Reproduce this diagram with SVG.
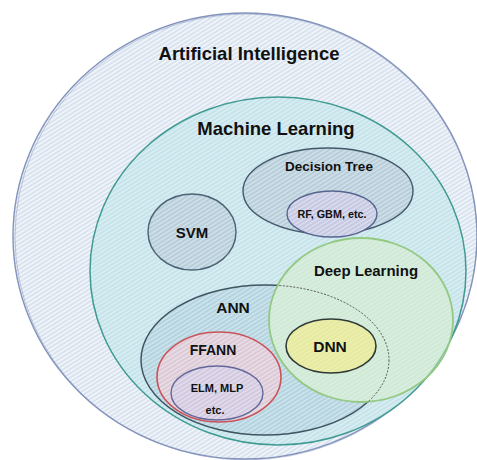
<svg xmlns="http://www.w3.org/2000/svg" width="477" height="460" viewBox="0 0 477 460">
<style>
text{font-family:"Liberation Sans",Arial,sans-serif;font-weight:bold;fill:#111;text-anchor:middle}
.hl{stroke:#fff;stroke-width:1;stroke-opacity:0.6}
</style>
<defs>
<pattern id="pAI" width="3.6" height="3.6" patternUnits="userSpaceOnUse" patternTransform="rotate(58)"><rect width="3.6" height="3.6" fill="#eff4f9"/><line x1="1" y1="0" x2="1" y2="3.6" stroke="#c3d2e6" stroke-width="0.9"/></pattern>
<pattern id="pML" width="3.6" height="3.6" patternUnits="userSpaceOnUse" patternTransform="rotate(58)"><rect width="3.6" height="3.6" fill="#c4e3ea"/><line x1="1" y1="0" x2="1" y2="3.6" class="hl"/></pattern>
<pattern id="pDT" width="3.6" height="3.6" patternUnits="userSpaceOnUse" patternTransform="rotate(58)"><rect width="3.6" height="3.6" fill="#b6cdda"/><line x1="1" y1="0" x2="1" y2="3.6" class="hl"/></pattern>
<pattern id="pRF" width="3.6" height="3.6" patternUnits="userSpaceOnUse" patternTransform="rotate(58)"><rect width="3.6" height="3.6" fill="#c5c8e2"/><line x1="1" y1="0" x2="1" y2="3.6" class="hl"/></pattern>
<pattern id="pANN" width="3.6" height="3.6" patternUnits="userSpaceOnUse" patternTransform="rotate(58)"><rect width="3.6" height="3.6" fill="#b2d3df"/><line x1="1" y1="0" x2="1" y2="3.6" class="hl"/></pattern>
<pattern id="pFF" width="3.6" height="3.6" patternUnits="userSpaceOnUse" patternTransform="rotate(58)"><rect width="3.6" height="3.6" fill="#dcc9d6"/><line x1="1" y1="0" x2="1" y2="3.6" class="hl"/></pattern>
<pattern id="pELM" width="3.6" height="3.6" patternUnits="userSpaceOnUse" patternTransform="rotate(58)"><rect width="3.6" height="3.6" fill="#d2c8e0"/><line x1="1" y1="0" x2="1" y2="3.6" class="hl"/></pattern>
<pattern id="pDNN" width="3.6" height="3.6" patternUnits="userSpaceOnUse" patternTransform="rotate(58)"><rect width="3.6" height="3.6" fill="#e6ea9c"/><line x1="1" y1="0" x2="1" y2="3.6" stroke="#fff" stroke-width="0.9" stroke-opacity="0.4"/></pattern>
<clipPath id="outDL"><path clip-rule="evenodd" d="M0 0H477V460H0Z M269 320a92 82 0 1 0 184 0a92 82 0 1 0-184 0Z"/></clipPath>
<clipPath id="inDL"><ellipse cx="361" cy="320" rx="92" ry="82"/></clipPath>
</defs>
<rect width="477" height="460" fill="#fff"/>
<g id="ai">
<ellipse cx="245" cy="236" rx="232" ry="223" fill="url(#pAI)" stroke="#8393bb" stroke-width="1.4"/>
<ellipse cx="246" cy="237" rx="231" ry="223" fill="none" stroke="#8393bb" stroke-width="0.8" stroke-opacity="0.6"/>
<text x="249" y="60" font-size="18.5">Artificial Intelligence</text>
</g>
<g id="ml">
<ellipse cx="278" cy="271" rx="188" ry="174" fill="url(#pML)" stroke="#3f9a92" stroke-width="1.5"/>
<text x="276" y="135" font-size="18.5">Machine Learning</text>
</g>
<g id="dt">
<ellipse cx="328" cy="191" rx="85" ry="43" fill="url(#pDT)" stroke="#43596a" stroke-width="1.4"/>
<text x="329" y="171" font-size="13.5">Decision Tree</text>
</g>
<g id="rf">
<ellipse cx="332" cy="214" rx="45" ry="23" fill="url(#pRF)" stroke="#56658f" stroke-width="1.4"/>
<text x="332" y="218" font-size="10.8">RF, GBM, etc.</text>
</g>
<g id="svm">
<ellipse cx="192" cy="232" rx="44" ry="38" fill="url(#pDT)" stroke="#4a6272" stroke-width="1.4"/>
<text x="192" y="238" font-size="15">SVM</text>
</g>
<g id="ann">
<ellipse cx="265" cy="360" rx="124" ry="75" fill="url(#pANN)" stroke="#3f5562" stroke-width="1.5" clip-path="url(#outDL)"/>
<text x="233" y="313" font-size="15.5">ANN</text>
</g>
<g id="dl">
<ellipse cx="361" cy="320" rx="92" ry="82" fill="#dcefc4" fill-opacity="0.45" stroke="#93c983" stroke-width="1.8"/>
<ellipse cx="265" cy="360" rx="124" ry="75" fill="none" stroke="#555" stroke-width="1" stroke-dasharray="2 1.5" clip-path="url(#inDL)"/>
<text x="366" y="276" font-size="15">Deep Learning</text>
</g>
<g id="ffann">
<ellipse cx="219" cy="377" rx="62" ry="45" fill="url(#pFF)" stroke="#c9545a" stroke-width="1.6"/>
<text x="213" y="355" font-size="14">FFANN</text>
</g>
<g id="elm">
<ellipse cx="217" cy="393" rx="46" ry="27" fill="url(#pELM)" stroke="#63679a" stroke-width="1.4"/>
<text x="217" y="392" font-size="11">ELM, MLP</text>
<text x="215" y="414" font-size="11">etc.</text>
</g>
<g id="dnn">
<ellipse cx="331" cy="346" rx="45" ry="27" fill="url(#pDNN)" stroke="#2f3a36" stroke-width="1.6"/>
<text x="330" y="352" font-size="15.5">DNN</text>
</g>
<g id="connectors"/>
</svg>
